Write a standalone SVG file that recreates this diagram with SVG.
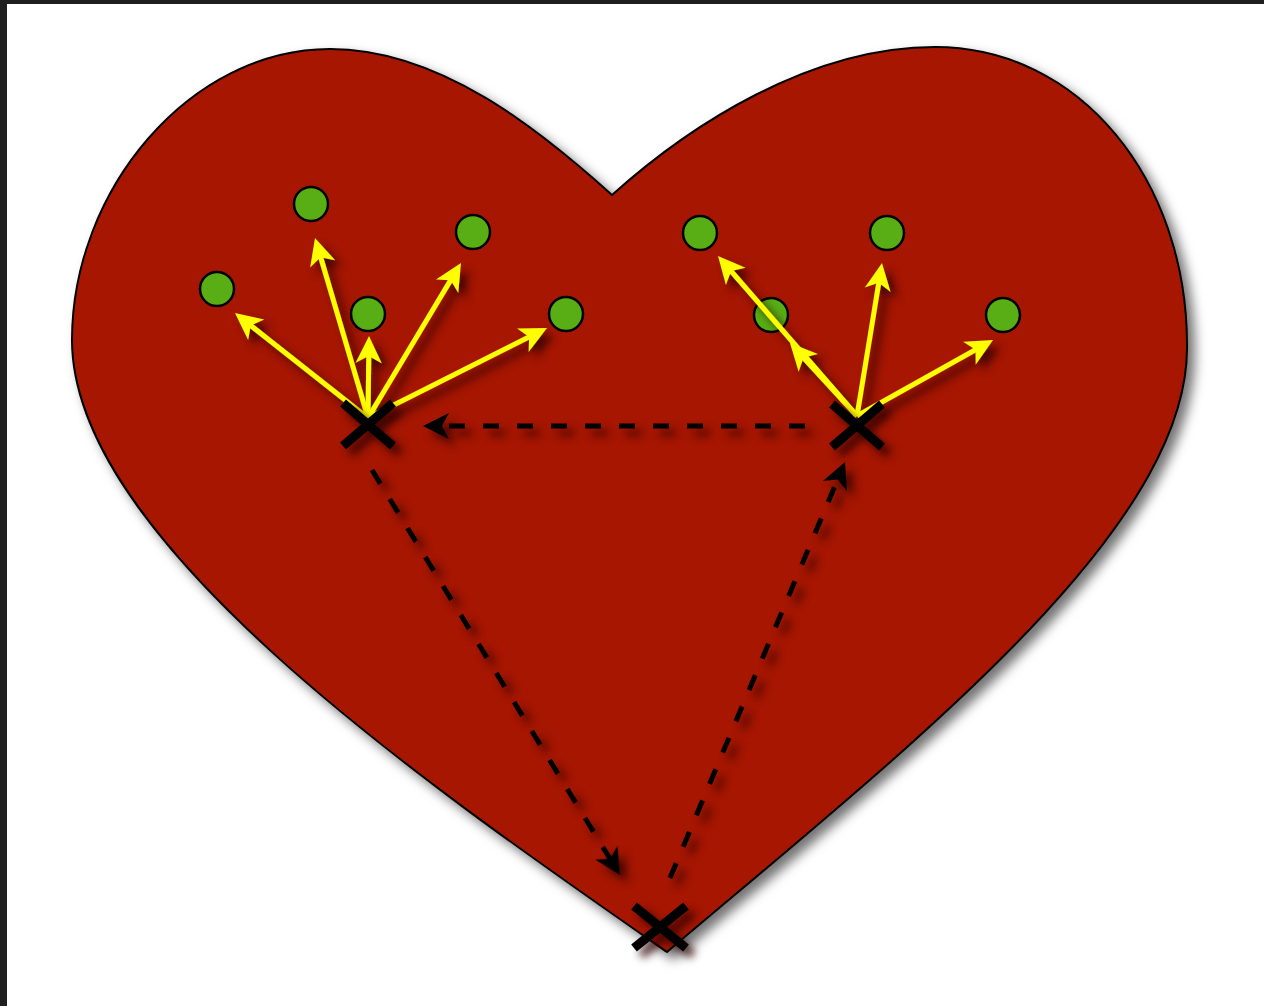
<svg xmlns="http://www.w3.org/2000/svg" width="1264" height="1006" viewBox="0 0 1264 1006">
<defs>
<style>
.heart{fill:#a61800;stroke:#000;stroke-width:2}
.dot{fill:#58ae14;stroke:#000;stroke-width:2.5}
.ya{stroke:#ffff00;stroke-width:5;fill:none}
.ba{stroke:#000;stroke-width:5;fill:none;stroke-dasharray:16 18}
.x{stroke:#000;stroke-width:9;stroke-linecap:butt}
</style>
<filter id="sh" x="-20%" y="-20%" width="140%" height="140%">
<feDropShadow dx="7" dy="7" stdDeviation="6" flood-color="#000" flood-opacity="0.55"/>
</filter>
<filter id="sh2" x="-50%" y="-50%" width="200%" height="200%">
<feDropShadow dx="7" dy="7" stdDeviation="4.5" flood-color="#2a0000" flood-opacity="0.8"/>
</filter>
<path id="yhd" d="M0,0 L-27,-13 L-20,0 L-27,13 Z" fill="#ffff00"/>
<path id="bhd" d="M0,0 L-26,-13 L-19,0 L-26,13 Z" fill="#000"/>
</defs>
<rect x="0" y="0" width="1264" height="1006" fill="#1f1f1f"/>
<rect x="7" y="4" width="1257" height="1002" fill="#ffffff"/>
<g id="heart" filter="url(#sh)">
<path class="heart" d="M612,195 C690,125 810,47 935,47 C1080,47 1187,180 1187,345 C1190,530 905,750 667,952 C420,780 72,540 72,340 C72,190 190,49 330,49 C440,49 540,130 612,195 Z"/>
</g>
<g id="points">
<circle class="dot" cx="311" cy="204" r="17"/>
<circle class="dot" cx="217" cy="289" r="17"/>
<circle class="dot" cx="368" cy="314" r="17"/>
<circle class="dot" cx="473" cy="232" r="17"/>
<circle class="dot" cx="566" cy="314" r="17"/>
<circle class="dot" cx="700" cy="233" r="17"/>
<circle class="dot" cx="771" cy="315" r="17"/>
<circle class="dot" cx="887" cy="233" r="17"/>
<circle class="dot" cx="1003" cy="315" r="17"/>
</g>
<g id="connectors" filter="url(#sh2)">
<g><line class="ya" x1="368" y1="418" x2="249.1" y2="324.2"/><use href="#yhd" transform="translate(235,313) rotate(218.3)"/></g>
<g><line class="ya" x1="368" y1="418" x2="320.1" y2="255.3"/><use href="#yhd" transform="translate(315,238) rotate(-106.4)"/></g>
<g><line class="ya" x1="368" y1="418" x2="368.8" y2="354"/><use href="#yhd" transform="translate(369,336) rotate(-89.3)"/></g>
<g><line class="ya" x1="368" y1="418" x2="451.7" y2="278.4"/><use href="#yhd" transform="translate(461,263) rotate(-59)"/></g>
<g><line class="ya" x1="368" y1="418" x2="530.9" y2="336.1"/><use href="#yhd" transform="translate(547,328) rotate(-26.7)"/></g>
<g><line class="ya" x1="857" y1="416" x2="802.2" y2="356.3"/><use href="#yhd" transform="translate(790,343) rotate(-132.5)"/></g>
<g><line class="ya" x1="857" y1="416" x2="729.8" y2="269.6"/><use href="#yhd" transform="translate(718,256) rotate(-131)"/></g>
<g><line class="ya" x1="857" y1="416" x2="879.1" y2="280.8"/><use href="#yhd" transform="translate(882,263) rotate(-80.7)"/></g>
<g><line class="ya" x1="857" y1="416" x2="977.3" y2="348.8"/><use href="#yhd" transform="translate(993,340) rotate(-29.2)"/></g>
<g><line class="ba" x1="805" y1="426" x2="440" y2="426"/><use href="#bhd" transform="translate(423,426) rotate(180)"/></g>
<g><line class="ba" x1="372" y1="470" x2="611.1" y2="860.5"/><use href="#bhd" transform="translate(620,875) rotate(58.5)"/></g>
<g><line class="ba" x1="670" y1="878" x2="838.4" y2="477.7"/><use href="#bhd" transform="translate(845,462) rotate(-67.2)"/></g>
</g>
<g id="cross-left" filter="url(#sh2)">
<line class="x" x1="343" y1="403" x2="393" y2="446"/>
<line class="x" x1="343" y1="446" x2="393" y2="403"/>
</g>
<g id="cross-right" filter="url(#sh2)">
<line class="x" x1="832" y1="404" x2="882" y2="447"/>
<line class="x" x1="832" y1="447" x2="882" y2="404"/>
</g>
<g id="cross-bottom" filter="url(#sh2)">
<line class="x" x1="634" y1="906" x2="686" y2="948"/>
<line class="x" x1="634" y1="948" x2="686" y2="906"/>
</g>
</svg>
